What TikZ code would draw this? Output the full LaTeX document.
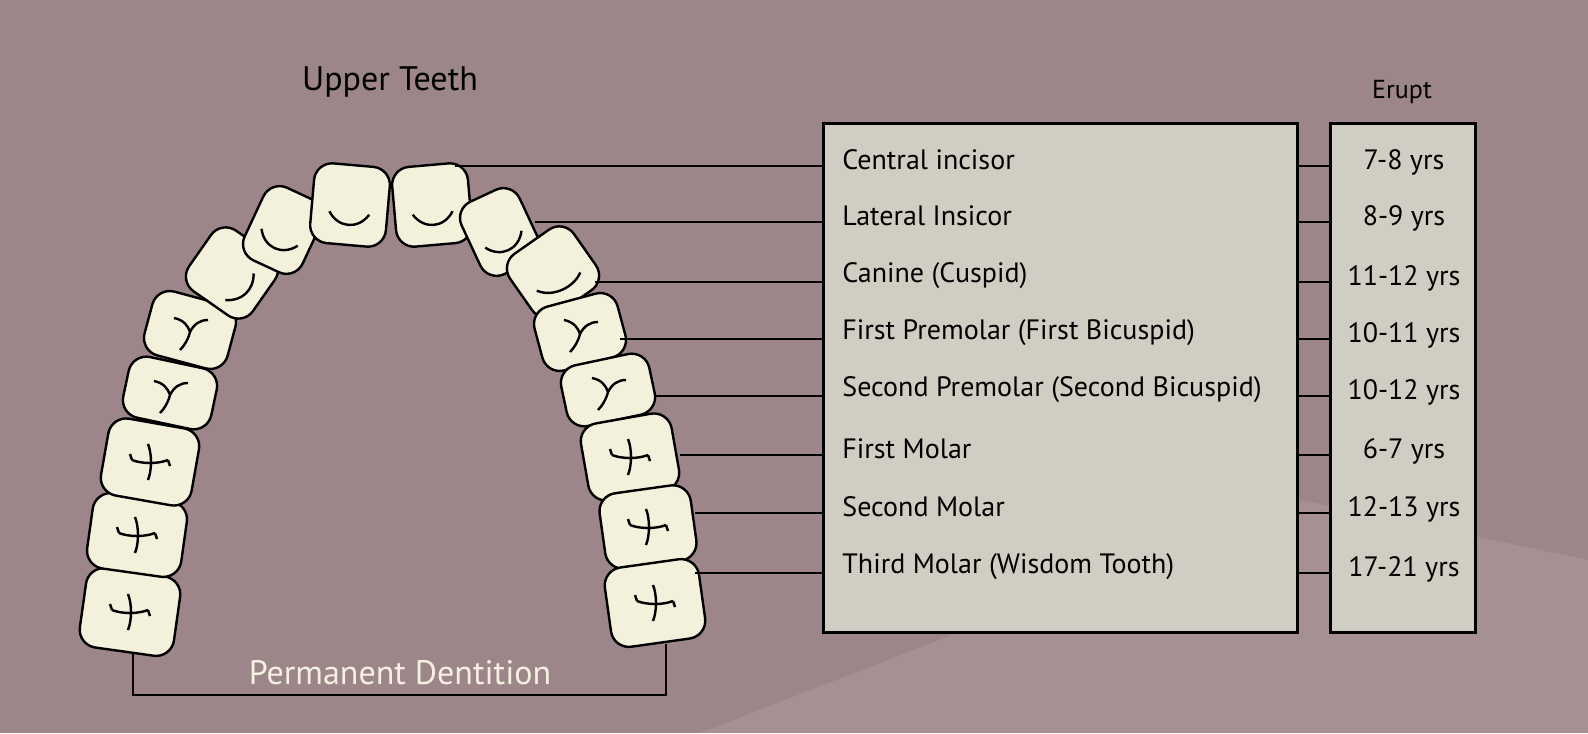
\documentclass[tikz,border=0pt]{standalone}
\usepackage{fontspec}
\setmainfont{PT Sans}
\definecolor{bg}{RGB}{156,134,137}
\definecolor{bgl}{RGB}{184,164,166}
\definecolor{cream}{RGB}{243,240,220}
\definecolor{boxc}{RGB}{208,206,194}
\definecolor{wtxt}{RGB}{245,240,225}
\begin{document}
\begin{tikzpicture}[x=0.5pt,y=-0.5pt,
 tooth/.style={draw=black,line width=1.2pt,fill=cream,rounded corners=9pt,inner sep=0pt},
 mk/.style={line width=1.2pt},
 lbl/.style={anchor=west,font=\fontsize{14}{16}\selectfont,inner sep=0pt},
 yrs/.style={anchor=center,font=\fontsize{14}{16}\selectfont,inner sep=0pt},
 ln/.style={line width=1.1pt}]
\fill[bg] (0,0) rectangle (1588,733);
\fill[bgl,opacity=0.35] (700,733) -- (1300,500) -- (1588,560) -- (1588,733) -- cycle;
% teeth
\newcommand\tth[6]{\node[tooth,minimum width={#4*0.5pt},minimum height={#5*0.5pt},rotate=#6] (#1) at (#2,#3) {};}
\tth{L8}{130}{612}{95}{80}{-8}
\tth{L7}{137}{535}{95}{76}{-8}
\tth{L6}{150}{462}{92}{78}{-10}
\tth{L5}{170}{393}{90}{62}{-12}
\tth{L4}{190}{330}{86}{66}{-15}
\tth{L3}{232}{273}{78}{74}{-35}
\tth{L2}{283}{230}{64}{80}{-25}
\tth{L1}{350}{205}{76}{80}{-5}
\tth{R1}{432}{205}{76}{80}{5}
\tth{R2}{500}{232}{64}{80}{25}
\tth{R3}{553}{272}{78}{74}{35}
\tth{R4}{580}{332}{86}{66}{15}
\tth{R5}{608}{390}{90}{62}{12}
\tth{R6}{630}{457}{92}{78}{10}
\tth{R7}{648}{527}{92}{76}{8}
\tth{R8}{655}{603}{95}{80}{8}
% marks
\foreach \t/\r in {L1/-5,R1/5,L2/-25,R2/25}
 \draw[mk,shift={(\t.center)},rotate=\r] (-20,8) .. controls (-10,24) and (10,24) .. (20,8);
\draw[mk,shift={(L3.center)},rotate=-35] (18,-12) .. controls (28,2) and (24,18) .. (10,26);
\draw[mk,shift={(R3.center)},rotate=35] (-24,6) .. controls (-14,22) and (10,24) .. (22,16);
\foreach \t in {L4,L5,R4,R5}
 \draw[mk,shift={(\t.center)}] (-16,-12) .. controls (-6,-10) and (-2,-4) .. (0,2) .. controls (4,-6) and (10,-10) .. (18,-10)
   (0,2) .. controls (-2,10) and (-6,16) .. (-10,20);
\foreach \t in {L6,L7,L8,R6,R7,R8}
 \draw[mk,shift={(\t.center)}] (-18,-2) .. controls (-8,2) and (8,2) .. (18,-2)
   (-2,-18) .. controls (2,-8) and (2,8) .. (-2,18)
   (-18,-2) -- (-20,-8) (18,-2) -- (20,4);
% boxes
\node[draw=black,line width=1.3pt,fill=boxc,minimum width=237pt,minimum height=254.5pt,inner sep=0pt,anchor=north west] (box) at (822,122) {};
\node[draw=black,line width=1.3pt,fill=boxc,minimum width=72.5pt,minimum height=254.5pt,inner sep=0pt,anchor=north west] (box2) at (1329,122) {};
% labels and connectors
\foreach \n/\y/\sx/\txt/\yr in {1/166/455/Central incisor/7-8 yrs,
 2/222/535/Lateral Insicor/8-9 yrs,
 3/282/595/Canine (Cuspid)/11-12 yrs,
 4/339/620/First Premolar (First Bicuspid)/10-11 yrs,
 5/396/655/Second Premolar (Second Bicuspid)/10-12 yrs,
 6/455/680/First Molar/6-7 yrs,
 7/513/695/Second Molar/12-13 yrs,
 8/573/695/Third Molar (Wisdom Tooth)/17-21 yrs}{
 \coordinate (s\n) at (\sx,\y);
 \node[lbl] (l\n) at (842,\y-6) {\txt};
 \node[yrs] (y\n) at (1404,\y-4) {\yr};
 \draw[ln] (s\n) -- (s\n -| box.west);
 \draw[ln] (s\n -| box.east) -- (s\n -| box2.west);
}
\node[font=\fontsize{17}{20}\selectfont] (up) at (390,82) {Upper Teeth};
\node[font=\fontsize{13}{15}\selectfont] (er) at (1402,92) {Erupt};
\node[font=\fontsize{17}{20}\selectfont,text=wtxt] (pd) at (400,673) {Permanent Dentition};
\coordinate (b1) at (133,695); \coordinate (b2) at (666,695);
\draw[ln] (b1 |- L8.south) -- (b1) -- (b2) -- (b2 |- R8.south);
\pgfresetboundingbox
\path[use as bounding box] (0,0) rectangle (1588,733);
\end{tikzpicture}
\end{document}
